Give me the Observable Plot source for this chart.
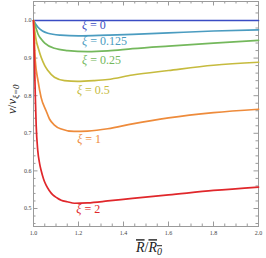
<!DOCTYPE html>
<html><head><meta charset="utf-8">
<script src="https://cdn.jsdelivr.net/npm/d3@7"></script>
<script src="https://cdn.jsdelivr.net/npm/@observablehq/plot@0.6"></script>
<style>body{margin:0;background:#fff}</style>
</head><body><div id="chart"></div>
<script>
// series keys and colours
const xiValues = ["0", "0.125", "0.25", "0.5", "1", "2"];
const colors = ["#3a4cc4", "#4b9cc0", "#74b85c", "#c6bb3e", "#ee8b3b", "#e0272b"];

// curves: x = R̄/R̄0, v = v/v(ξ=0)
const x_xi0 = [1, 2];
const v_xi0 = [1, 1];
const x_xi0125 = [1, 1.01, 1.02, 1.04, 1.064, 1.12, 1.2, 1.33, 1.44, 1.6, 1.8, 2.0];
const v_xi0125 = [1, 0.99, 0.982, 0.972, 0.966, 0.961, 0.959, 0.961, 0.963, 0.967, 0.972, 0.975];
const x_xi025 = [1, 1.01, 1.02, 1.035, 1.05, 1.093, 1.152, 1.24, 1.33, 1.44, 1.6, 1.8, 2.0];
const v_xi025 = [1, 0.982, 0.964, 0.95, 0.94, 0.926, 0.92, 0.917, 0.919, 0.925, 0.932, 0.94, 0.947];
const x_xi05 = [1, 1.005, 1.012, 1.022, 1.034, 1.05, 1.064, 1.093, 1.138, 1.196, 1.27, 1.33, 1.44, 1.6, 1.8, 2.0];
const v_xi05 = [1, 0.975, 0.947, 0.925, 0.902, 0.88, 0.867, 0.849, 0.84, 0.838, 0.84, 0.843, 0.855, 0.867, 0.881, 0.889];
const x_xi1 = [1, 1.003, 1.008, 1.02, 1.034, 1.056, 1.071, 1.093, 1.12, 1.18, 1.24, 1.33, 1.44, 1.6, 1.8, 2.0];
const v_xi1 = [1, 0.96, 0.893, 0.84, 0.795, 0.76, 0.738, 0.722, 0.712, 0.705, 0.706, 0.712, 0.725, 0.741, 0.755, 0.764];
const x_xi2 = [1, 1.004, 1.008, 1.012, 1.019, 1.027, 1.034, 1.045, 1.056, 1.07, 1.086, 1.105, 1.123, 1.15, 1.182, 1.24, 1.33, 1.44, 1.6, 1.8, 2.0];
const v_xi2 = [1, 0.9, 0.8, 0.72, 0.654, 0.62, 0.601, 0.578, 0.562, 0.548, 0.536, 0.528, 0.522, 0.518, 0.514, 0.515, 0.52, 0.527, 0.536, 0.548, 0.557];

// curve label anchors (left/baseline), in data units
const labelX = [1.215, 1.216, 1.216, 1.193, 1.194, 1.19];
const labelV = [0.978, 0.9336, 0.885, 0.8054, 0.674, 0.4875];

// ticks
const xMajor = [1.0, 1.2, 1.4, 1.6, 1.8, 2.0];
const xMinor = d3.range(1.0, 2.0001, 0.05).map(d => +d.toFixed(2)).filter(d => !xMajor.some(m => Math.abs(m - d) < 1e-6));
const yMajor = [0.5, 0.6, 0.7, 0.8, 0.9, 1.0];
const yMinor = d3.range(0.46, 1.0401, 0.02).map(d => +d.toFixed(2)).filter(d => !yMajor.some(m => Math.abs(m - d) < 1e-6));

const seriesX = [x_xi0, x_xi0125, x_xi025, x_xi05, x_xi1, x_xi2];
const seriesV = [v_xi0, v_xi0125, v_xi025, v_xi05, v_xi1, v_xi2];
const rows = [];
seriesX.forEach((xs, i) => xs.forEach((x, j) => rows.push({xi: xiValues[i], x, v: seriesV[i][j]})));
const labels = xiValues.map((xi, i) => ({xi, x: labelX[i], v: labelV[i]}));

const W = 266, H = 258, mL = 33, mR = 8, mT = 1, mB = 32;
const iW = W - mL - mR, iH = H - mT - mB;
const frameColor = "#9a9a9a";

const chart = Plot.plot({
  width: W, height: H,
  marginLeft: mL, marginRight: mR, marginTop: mT, marginBottom: mB,
  x: {domain: [1, 2]},
  y: {domain: [0.4521, 1.0505]},
  color: {domain: xiValues, range: colors},
  style: {fontFamily: "'Liberation Serif', serif", background: "white", overflow: "visible"},
  marks: [
    // inward frame ticks
    Plot.ruleX(xMinor, {stroke: frameColor, insetTop: iH - 2.5}),
    Plot.ruleX(xMinor, {stroke: frameColor, insetBottom: iH - 2.5}),
    Plot.ruleX(xMajor, {stroke: frameColor, insetTop: iH - 4.5}),
    Plot.ruleX(xMajor, {stroke: frameColor, insetBottom: iH - 4.5}),
    Plot.ruleY(yMinor, {stroke: frameColor, insetRight: iW - 2.5}),
    Plot.ruleY(yMinor, {stroke: frameColor, insetLeft: iW - 2.5}),
    Plot.ruleY(yMajor, {stroke: frameColor, insetRight: iW - 4.5}),
    Plot.ruleY(yMajor, {stroke: frameColor, insetLeft: iW - 4.5}),
    Plot.frame({stroke: frameColor}),
    Plot.line(rows, {x: "x", y: "v", z: "xi", stroke: "xi", strokeWidth: 1.7, curve: "monotone-x"}),
    Plot.text(labels, {x: "x", y: "v", text: d => "ξ = " + d.xi, fill: "xi", textAnchor: "start", lineAnchor: "bottom", fontSize: 12}),
    Plot.axisX(xMajor, {tickSize: 0, tickPadding: 4, fontSize: 6, fill: "#444", tickFormat: d3.format(".1f"), label: null}),
    Plot.axisY(yMajor, {tickSize: 0, tickPadding: 2, fontSize: 6, fill: "#444", tickFormat: d3.format(".1f"), label: null}),
    Plot.text(["v/v"], {frameAnchor: "left", rotate: -90, dx: -22, fontSize: 13, fill: "#222"}),
    Plot.text(["R/R"], {frameAnchor: "bottom", dx: 3, dy: 25.7, lineAnchor: "bottom", fontSize: 14, fill: "#222"})
  ]
});

const svg = d3.select(chart);
const textGroups = svg.selectAll('g[aria-label="text"]').nodes();
const [curveG, yG, xG] = textGroups;
d3.select(curveG).selectAll("text").each(function() {
  const t = this.textContent.replace("ξ = ", "");
  const s = d3.select(this); s.text(null);
  s.append("tspan").attr("font-style", "italic").text("ξ");
  s.append("tspan").text(" = " + t);
});
d3.select(yG).selectAll("text").each(function() {
  const s = d3.select(this); s.text(null);
  s.append("tspan").attr("font-style", "italic").text("v");
  s.append("tspan").text("/");
  s.append("tspan").attr("font-style", "italic").text("v");
  s.append("tspan").attr("font-style", "italic").attr("font-size", 9).attr("dy", 3).text("ξ=0");
});
d3.select(xG).selectAll("text").each(function() {
  const s = d3.select(this); s.text(null);
  s.append("tspan").attr("font-style", "italic").attr("text-decoration", "overline").text("R");
  s.append("tspan").text("/");
  s.append("tspan").attr("font-style", "italic").attr("text-decoration", "overline").text("R");
  s.append("tspan").attr("font-style", "italic").attr("text-decoration", "overline").attr("font-size", 10).attr("dy", 3).text("0");
});
document.getElementById("chart").appendChild(chart);
</script>
</body></html>
